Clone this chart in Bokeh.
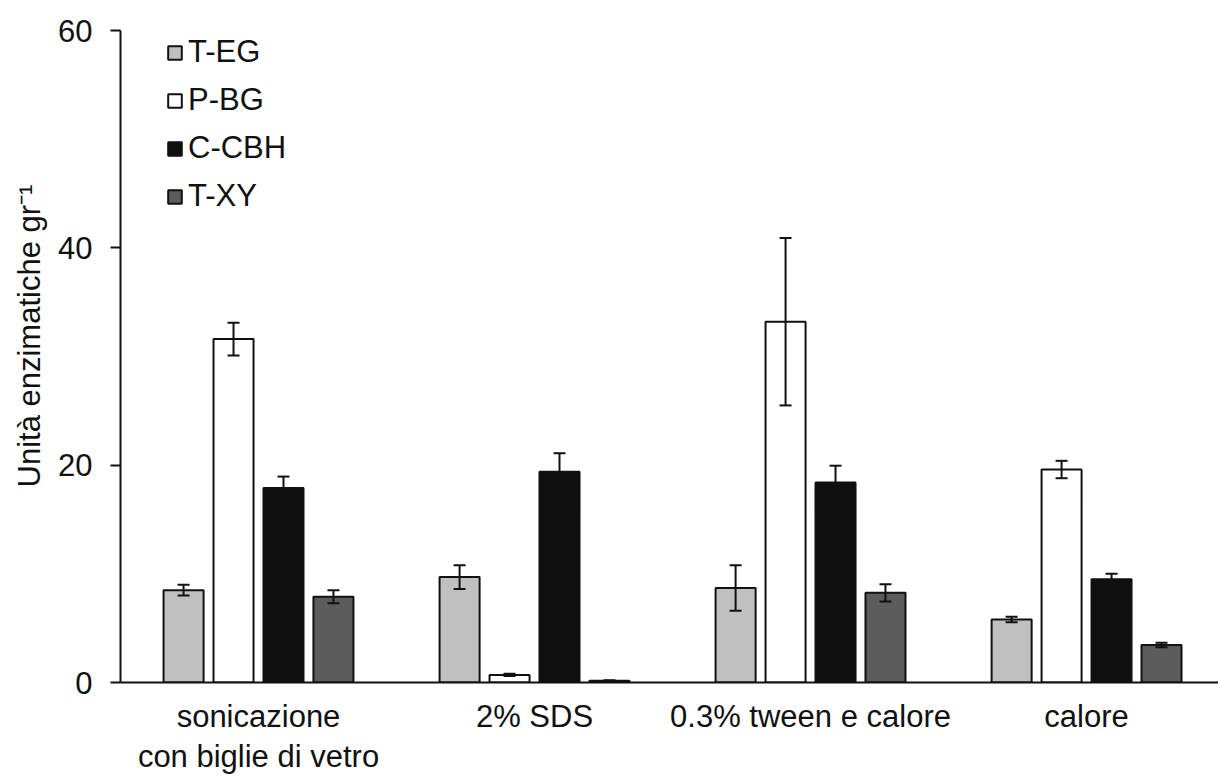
from bokeh.plotting import figure
from bokeh.models import (ColumnDataSource, Range1d, FixedTicker, Whisker,
                          TeeHead, Legend, LegendItem, Title)
from bokeh.embed import file_html
from bokeh.resources import INLINE

# Treatments (x categories) and enzymes (series)
treatments = ["sonicazione\ncon biglie di vetro", "2% SDS",
              "0.3% tween e calore", "calore"]
enzymes = ["T-EG", "P-BG", "C-CBH", "T-XY"]

# Mean activity and error for each enzyme, per treatment
t_eg = [8.5, 9.7, 8.7, 5.8]
t_eg_err = [0.5, 1.1, 2.1, 0.25]
p_bg = [31.6, 0.7, 33.2, 19.6]
p_bg_err = [1.5, 0.1, 7.7, 0.8]
c_cbh = [17.9, 19.4, 18.4, 9.5]
c_cbh_err = [1.05, 1.7, 1.55, 0.5]
t_xy = [7.9, 0.15, 8.25, 3.45]
t_xy_err = [0.6, 0.05, 0.8, 0.2]

y_ticks = [0, 20, 40, 60]
y_title = "Unità enzimatiche gr\u207b\u00b9"

series = [(t_eg, t_eg_err), (p_bg, p_bg_err), (c_cbh, c_cbh_err), (t_xy, t_xy_err)]
fills = ["#c0c0c0", "#ffffff", "#0f0f0f", "#5c5c5c"]

FONT = "Liberation Sans"
FS = "31px"
INK = "#111111"

p = figure(width=1218, height=776, output_backend="svg", toolbar_location=None,
           x_range=Range1d(0, 3.978), y_range=Range1d(0, 60),
           min_border_left=120, min_border_right=0, min_border_top=30,
           min_border_bottom=94)
p.outline_line_color = None
p.xgrid.visible = False
p.ygrid.visible = False
p.background_fill_color = "white"
p.border_fill_color = "white"

bar_w = 0.145
step = 0.181
centers = [i + 0.5 for i in range(len(treatments))]

items = []
for k, (name, (vals, errs)) in enumerate(zip(enzymes, series)):
    off = (k - 1.5) * step
    xs = [c + off for c in centers]
    src = ColumnDataSource(dict(
        x=xs, top=vals,
        upper=[v + e for v, e in zip(vals, errs)],
        lower=[v - e for v, e in zip(vals, errs)],
    ))
    r = p.vbar(x="x", top="top", bottom=0, width=bar_w, source=src,
               fill_color=fills[k], line_color=INK, line_width=2)
    w = Whisker(source=src, base="x", upper="upper", lower="lower",
                line_color=INK, line_width=2, level="overlay",
                upper_head=TeeHead(size=12, line_color=INK, line_width=2),
                lower_head=TeeHead(size=12, line_color=INK, line_width=2))
    p.add_layout(w)
    items.append(LegendItem(label=name, renderers=[r]))

# Axes
yax = p.yaxis[0]
yax.ticker = FixedTicker(ticks=y_ticks)
yax.major_label_text_font = FONT
yax.major_label_text_font_size = FS
yax.major_label_text_color = INK
yax.major_label_standoff = 18
yax.major_tick_out = 10
yax.major_tick_in = 0
yax.minor_tick_out = 0
yax.minor_tick_in = 0
yax.axis_line_width = 2
yax.axis_line_color = INK
yax.major_tick_line_width = 2
yax.major_tick_line_color = INK

# y-axis title, starting some way above the bottom of the axis
p.add_layout(Title(text=y_title, align="left", offset=195, standoff=18,
                   text_font=FONT, text_font_size=FS, text_font_style="normal",
                   text_color=INK), "left")

xax = p.xaxis[0]
xax.ticker = FixedTicker(ticks=centers)
xax.major_label_overrides = {c: t for c, t in zip(centers, treatments)}
xax.major_label_text_font = FONT
xax.major_label_text_font_size = FS
xax.major_label_text_line_height = 1.15
xax.major_label_text_color = INK
xax.major_label_standoff = 16
xax.major_tick_out = 0
xax.major_tick_in = 0
xax.minor_tick_out = 0
xax.minor_tick_in = 0
xax.axis_line_width = 2
xax.axis_line_color = INK

legend = Legend(items=items, location=(46, 468), orientation="vertical",
                border_line_color=None, background_fill_alpha=0,
                padding=0, margin=0, spacing=12,
                glyph_width=17, glyph_height=17, label_height=36,
                label_standoff=5,
                label_text_font=FONT, label_text_font_size=FS,
                label_text_color=INK)
p.add_layout(legend)

open("out.html", "w").write(file_html(p, INLINE))
